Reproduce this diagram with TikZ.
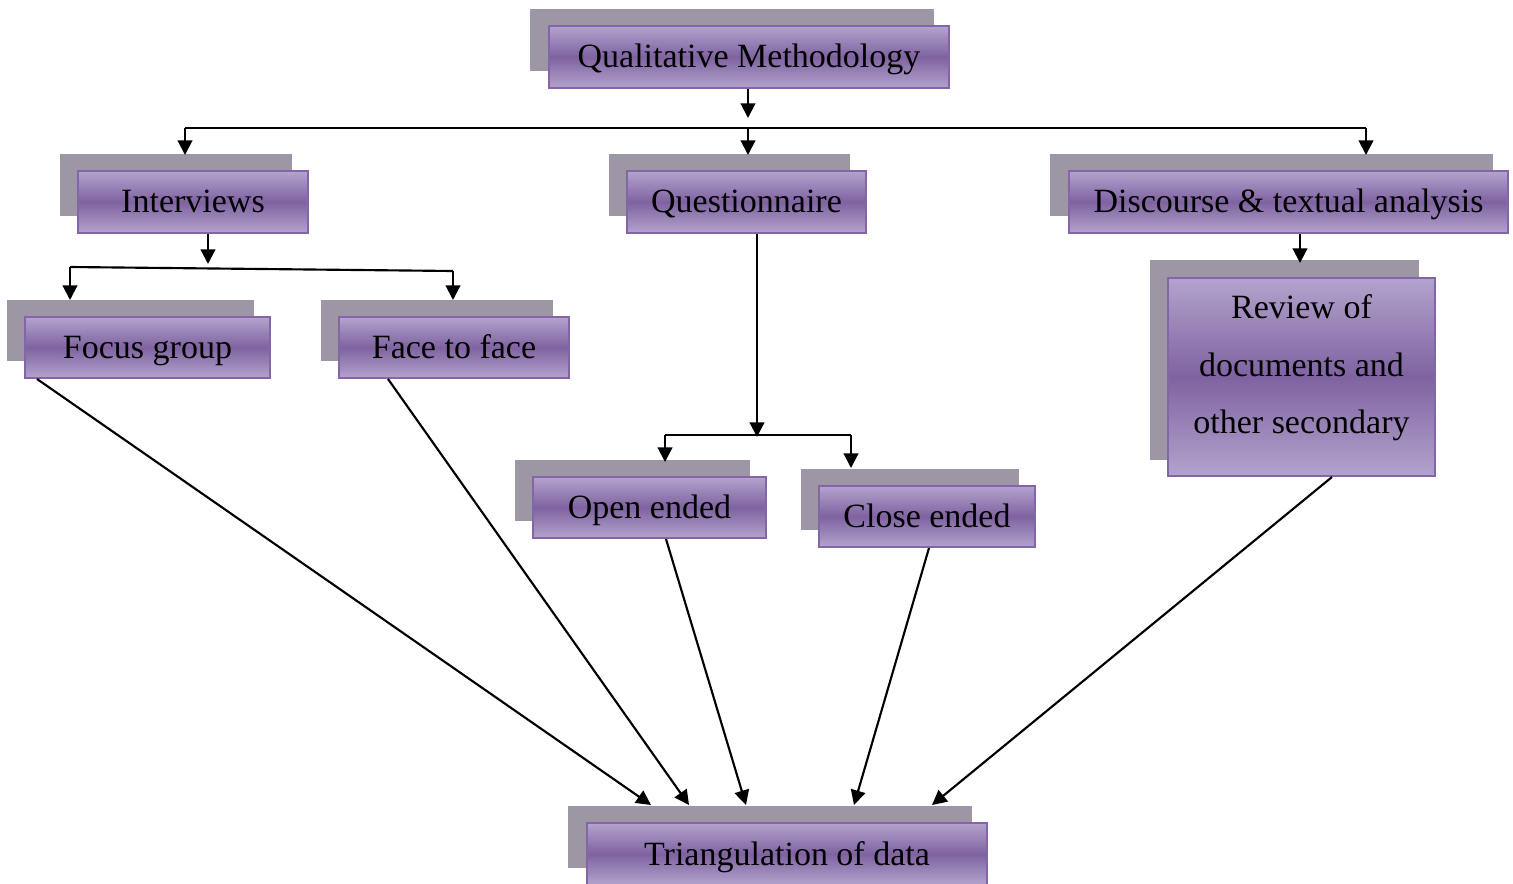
\documentclass[tikz,border=0pt]{standalone}
\usepackage{fontspec}
\setmainfont{Liberation Serif}
\usetikzlibrary{arrows.meta,shadows}
\definecolor{shgray}{HTML}{9D96A5}
\definecolor{pdark}{HTML}{7F63A1}
\definecolor{plight}{HTML}{B3A3CD}
\definecolor{pborder}{HTML}{8466A8}
\tikzset{
  pbox/.style={draw=pborder, line width=1.5pt, top color=plight, bottom color=plight, middle color=pdark,
    general shadow={fill=shgray, shadow xshift=-12.75pt, shadow yshift=12.75pt, shadow scale=1.01},
    minimum height=46.5pt, inner sep=0pt, text height=20pt, text depth=3.5pt,
    font=\fontsize{25.5}{30}\selectfont},
  arr/.style={line width=1.6pt, -{Triangle[width=11pt,length=11pt]}},
  ln/.style={line width=1.6pt},
}
\begin{document}
\begin{tikzpicture}[x=0.75pt,y=-0.75pt]
\useasboundingbox (0,0) rectangle (1513,884);
\node[pbox, minimum width=300pt] (qm) at (749,57) {Qualitative Methodology};
\node[pbox, minimum width=172.5pt] (int) at (193,202) {Interviews};
\node[pbox, minimum width=179.25pt] (qn) at (746.5,202) {Questionnaire};
\node[pbox, minimum width=329.25pt] (dta) at (1288.5,202) {Discourse \& textual analysis};
\node[pbox, minimum width=183.75pt, minimum height=45.75pt] (fg) at (147.5,347.5) {Focus group};
\node[pbox, minimum width=172.5pt, minimum height=45.75pt] (ff) at (454,347.5) {Face to face};
\node[pbox, minimum width=200.25pt, minimum height=148.5pt, text height=0pt, text depth=0pt] (rev) at (1301.5,377) {};
\node[font=\fontsize{25.5}{43}\selectfont, align=center, inner sep=0pt] (revt) at (1301.5,368) {Review of\\documents and\\other secondary};
\node[pbox, minimum width=174.75pt, minimum height=45.75pt] (oe) at (649.5,507.5) {Open ended};
\node[pbox, minimum width=162pt, minimum height=45.75pt] (ce) at (927,516.5) {Close ended};
\node[pbox, minimum width=300pt] (tri) at (787,854) {Triangulation of data};

% top branch
\coordinate (qa) at (748,118);
\coordinate (hL) at (185,128);
\coordinate (hM) at (748,128);
\coordinate (hR) at (1366,128);
\draw[arr] (qm.south -| qa) -- (qa);
\draw[ln] (hL) -- (hR);
\draw[arr] (hL) -- (185,155);
\draw[arr] (hM) -- (748,155);
\draw[arr] (hR) -- (1366,155);

% interviews branch
\coordinate (ia) at (208,264);
\coordinate (iL) at (70,267);
\coordinate (iR) at (453,271);
\draw[arr] (int.south -| ia) -- (ia);
\draw[ln] (iL) -- (iR);
\draw[arr] (iL) -- (70,300);
\draw[arr] (iR) -- (453,300);

% questionnaire branch
\coordinate (qb) at (757,437);
\coordinate (oL) at (665,435);
\coordinate (oR) at (851,435);
\draw[arr] (qn.south -| qb) -- (qb);
\draw[ln] (oL) -- (oR);
\draw[arr] (oL) -- (665,462);
\draw[arr] (oR) -- (851,468);

% discourse
\coordinate (da) at (1300,263);
\draw[arr] (dta.south -| da) -- (da);

% to triangulation
\draw[arr] ([xshift=9.75pt]fg.south west) -- ([xshift=48.75pt,yshift=12.75pt]tri.north west);
\draw[arr] ([xshift=37.5pt]ff.south west) -- ([xshift=77.25pt,yshift=12.75pt]tri.north west);
\draw[arr] ([xshift=100.5pt]oe.south west) -- ([xshift=120pt,yshift=12.75pt]tri.north west);
\draw[arr] ([xshift=83.25pt]ce.south west) -- ([xshift=201pt,yshift=12.75pt]tri.north west);
\draw[arr] ([xshift=123.75pt]rev.south west) -- ([xshift=259.5pt,yshift=12.75pt]tri.north west);
\end{tikzpicture}
\end{document}
